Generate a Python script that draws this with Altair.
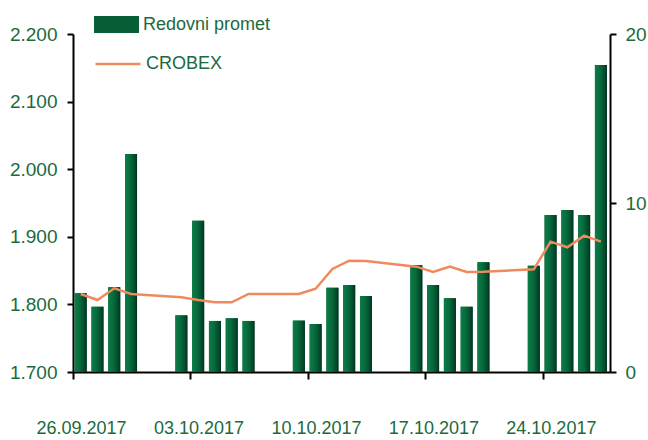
import altair as alt
import pandas as pd

# ---- data ----
dates = ["2017-09-26", "2017-09-27", "2017-09-28", "2017-09-29",
         "2017-10-02", "2017-10-03", "2017-10-04", "2017-10-05", "2017-10-06",
         "2017-10-09", "2017-10-10", "2017-10-11", "2017-10-12", "2017-10-13",
         "2017-10-16", "2017-10-17", "2017-10-18", "2017-10-19", "2017-10-20",
         "2017-10-23", "2017-10-24", "2017-10-25", "2017-10-26", "2017-10-27"]
promet = [4.66, 3.86, 5.01, 12.9, 3.35, 8.95, 3.02, 3.18, 3.02,
          3.04, 2.84, 4.99, 5.15, 4.5, 6.31, 5.15, 4.36, 3.86, 6.49,
          6.29, 9.29, 9.59, 9.29, 18.17]
crobex = [1815.4, 1806.5, 1823.8, 1815.4, 1810.5, 1806.5, 1803.1, 1803.1, 1815.4,
          1815.4, 1823.2, 1852.4, 1864.7, 1864.2, 1855.8, 1847.9, 1855.8, 1847.9, 1848.4,
          1851.9, 1892.8, 1884.5, 1901.7, 1892.8]
tick_dates = ["2017-09-26", "2017-10-03", "2017-10-10", "2017-10-17", "2017-10-24"]
x_domain_dates = ["2017-09-26", "2017-10-28"]
left_ticks = [1700, 1800, 1900, 2000, 2100, 2200]
right_ticks = [0, 10, 20]
bar_name = "Redovni promet"
line_name = "CROBEX"

GREEN_TXT = "#1b6a3d"
BAR_GREEN = "#085e35"
LINE_COL = "#ef8a5e"
FONT = "Liberation Sans, Arial, sans-serif"
FS_Y = 19
FS_X = 18
FS_L = 18


def to_ms(s, hours=0):
    ts = pd.Timestamp(s) + pd.Timedelta(hours=hours)
    return int((ts - pd.Timestamp("1970-01-01")) // pd.Timedelta(milliseconds=1))


df = pd.DataFrame({"date": dates, "promet": promet, "crobex": crobex})
df["t"] = [to_ms(d, 11) for d in dates]
df["bar_series"] = bar_name
df["line_series"] = line_name

x_enc = alt.X(
    "t:T",
    scale=alt.Scale(type="utc", domain=[to_ms(d) for d in x_domain_dates], padding=0),
    axis=alt.Axis(
        values=[to_ms(d) for d in tick_dates],
        labelExpr="utcFormat(datum.value, '%d.%m.%Y')",
        labelOffset=8, tickSize=7, labelPadding=40, grid=False,
        labelFlush=False, labelOverlap=False, labelBound=False,
        domainColor="black", domainWidth=2, tickColor="black", tickWidth=2,
        labelColor=GREEN_TXT, labelFontSize=FS_X, labelFont=FONT, title=None,
        labelBaseline="top", labelAlign="center",
    ),
)

y_bar = alt.Y(
    "promet:Q",
    scale=alt.Scale(domain=[0, 20], nice=False, zero=True),
    axis=alt.Axis(
        orient="right", values=right_ticks, tickSize=6, labelPadding=9,
        grid=False, domainColor="black", domainWidth=2, tickColor="black",
        tickWidth=2, labelColor=GREEN_TXT, labelFontSize=FS_Y, labelFont=FONT,
        title=None, labelFlush=False, labelOverlap=False,
    ),
)

gradient = alt.Gradient(
    gradient="linear",
    stops=[
        alt.GradientStop(color="#0d7c48", offset=0),
        alt.GradientStop(color="#066a3c", offset=0.45),
        alt.GradientStop(color="#02472a", offset=0.85),
        alt.GradientStop(color="#01301c", offset=1),
    ],
    x1=0, x2=1, y1=0, y2=0,
)

bars_solid = alt.Chart(df).mark_bar(size=12).encode(
    x=x_enc,
    y=y_bar,
    fill=alt.Fill(
        "bar_series:N",
        scale=alt.Scale(domain=[bar_name], range=[BAR_GREEN]),
        legend=alt.Legend(
            orient="none", legendX=21, legendY=-32, padding=0,
            symbolType="M-1,-0.378H1V0.378H-1Z", symbolSize=2025,
            symbolStrokeWidth=0, labelFontSize=FS_L, labelFont=FONT,
            labelColor=GREEN_TXT, title=None, labelOffset=4,
        ),
    ),
)

bars_grad = alt.Chart(df).mark_bar(size=12, fill=gradient).encode(
    x=alt.X("t:T"),
    y=alt.Y("promet:Q"),
)

bars = alt.layer(bars_solid, bars_grad)

line = alt.Chart(df).mark_line(strokeWidth=2.5).encode(
    x=alt.X("t:T"),
    y=alt.Y(
        "crobex:Q",
        scale=alt.Scale(domain=[1700, 2200], nice=False, zero=False),
        axis=alt.Axis(
            orient="left", values=left_ticks, tickSize=6, labelPadding=10,
            labelExpr="replace(format(datum.value, ','), ',', '.')",
            grid=False, domainColor="black", domainWidth=2, tickColor="black",
            tickWidth=2, labelColor=GREEN_TXT, labelFontSize=FS_Y, labelFont=FONT,
            title=None, labelFlush=False, labelOverlap=False,
        ),
    ),
    stroke=alt.Stroke(
        "line_series:N",
        scale=alt.Scale(domain=[line_name], range=[LINE_COL]),
        legend=alt.Legend(
            orient="none", legendX=21, legendY=6, padding=0,
            symbolType="stroke", symbolSize=2025, symbolStrokeWidth=2.5,
            labelFontSize=FS_L, labelFont=FONT, labelColor=GREEN_TXT,
            title=None, labelOffset=4,
        ),
    ),
)

chart = (
    alt.layer(bars, line)
    .resolve_scale(y="independent", fill="independent", stroke="independent")
    .properties(
        width=537, height=338, autosize="none",
        padding={"left": 73, "top": 34, "right": 38, "bottom": 68},
        background="white",
    )
    .configure_view(stroke="transparent")
)

chart.save("out.html", embed_options={"renderer": "svg", "actions": False})
